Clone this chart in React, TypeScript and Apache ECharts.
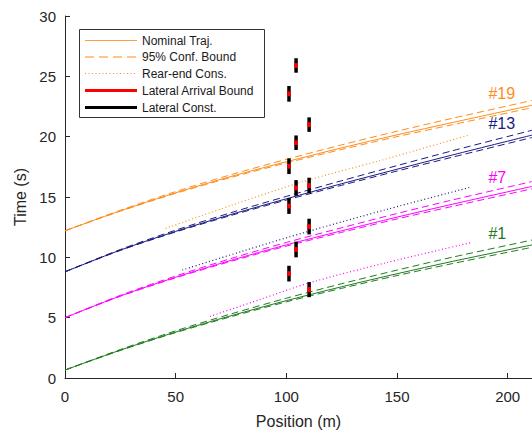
import React, { useEffect, useRef } from "react";
import * as echarts from "echarts";

// ---------- data ----------
const POS = [0, 25, 50, 75, 100, 125, 150, 175, 211];

// #1 (green)
const nom1 = [0.66, 2.31, 3.81, 5.16, 6.41, 7.56, 8.64, 9.66, 11.03];
const up1 = [0.66, 2.36, 3.91, 5.31, 6.61, 7.81, 8.94, 10.01, 11.43];
const lo1 = [0.66, 2.28, 3.76, 5.08, 6.31, 7.43, 8.49, 9.48, 10.83];
// #7 (magenta)
const nom7 = [5.0, 6.8, 8.35, 9.75, 11.03, 12.2, 13.33, 14.4, 15.88];
const up7 = [5.0, 6.85, 8.45, 9.9, 11.23, 12.45, 13.63, 14.75, 16.28];
const lo7 = [5.0, 6.77, 8.3, 9.67, 10.93, 12.07, 13.18, 14.22, 15.68];
// #13 (navy)
const nom13 = [8.8, 10.6, 12.15, 13.55, 14.85, 16.1, 17.3, 18.48, 20.13];
const up13 = [8.8, 10.65, 12.25, 13.7, 15.05, 16.35, 17.6, 18.83, 20.53];
const lo13 = [8.8, 10.57, 12.1, 13.47, 14.75, 15.97, 17.15, 18.3, 19.93];
// #19 (orange)
const nom19 = [12.2, 13.85, 15.35, 16.7, 17.92, 19.07, 20.15, 21.17, 22.6];
const up19 = [12.2, 13.9, 15.45, 16.85, 18.12, 19.32, 20.45, 21.52, 23.0];
const lo19 = [12.2, 13.82, 15.3, 16.62, 17.82, 18.94, 20.0, 20.99, 22.4];

// rear-end constraints (dotted)
const rear7X = [65.5, 88, 110.7, 145, 183];
const rear7T = [5.1, 6.5, 7.9, 9.55, 11.2];
const rear13X = [53, 80, 109, 145, 183];
const rear13T = [8.95, 10.5, 12.1, 13.95, 15.8];
const rear19X = [45.5, 75, 108, 142, 182];
const rear19T = [12.4, 14.3, 16.3, 18.0, 20.1];

// lateral constraints (black) and lateral arrival bounds (red)
const latX = [101.2, 101.2, 101.2, 101.2, 104.4, 104.4, 104.4, 104.4, 110.3, 110.3, 110.3, 110.3];
const latLow = [22.9, 16.9, 13.6, 8.0, 25.3, 18.9, 15.1, 10.0, 20.4, 15.3, 11.9, 6.7];
const latHigh = [24.2, 18.2, 14.9, 9.3, 26.5, 20.1, 16.4, 11.3, 21.6, 16.6, 13.2, 7.95];
const arrLow = [23.35, 17.35, 14.05, 8.45, 25.7, 19.3, 15.55, 10.45, 20.8, 15.75, 12.35, 7.1];
const arrHigh = [23.75, 17.75, 14.45, 8.85, 26.1, 19.7, 15.95, 10.85, 21.2, 16.15, 12.75, 7.55];

// trajectory labels
const labelNames = ["#19", "#13", "#7", "#1"];
const labelX = [191.3, 191.3, 191.3, 191.3];
const labelT = [23.6, 21.1, 16.6, 12.0];

// ---------- styles ----------
const W = 532;
const H = 435;
const C_GREEN = "#1F7A1F";
const C_MAGENTA = "#FF00FF";
const C_NAVY = "#1A1A80";
const C_ORANGE = "#FF8C1A";
const FONT = "'Liberation Sans', Arial, Helvetica, sans-serif";
const AXIS_C = "#262626";
const DASH = [7, 4];
const DOT = [1, 2.5];

const pairs = (xs: number[], ys: number[]) => xs.map((x, i) => [x, ys[i]]);

export default function App() {
  const ref = useRef<HTMLDivElement>(null);
  useEffect(() => {
    if (!ref.current) return;
    const chart = echarts.init(ref.current, undefined, { renderer: "svg", width: W, height: H });

    const traj = [
      { name: "#1", color: C_GREEN, nom: nom1, up: up1, lo: lo1 },
      { name: "#7", color: C_MAGENTA, nom: nom7, up: up7, lo: lo7 },
      { name: "#13", color: C_NAVY, nom: nom13, up: up13, lo: lo13 },
      { name: "#19", color: C_ORANGE, nom: nom19, up: up19, lo: lo19 },
    ];
    const rear = [
      { color: C_MAGENTA, x: rear7X, t: rear7T },
      { color: C_NAVY, x: rear13X, t: rear13T },
      { color: C_ORANGE, x: rear19X, t: rear19T },
    ];
    const labelColors: Record<string, string> = {
      "#19": C_ORANGE,
      "#13": C_NAVY,
      "#7": C_MAGENTA,
      "#1": C_GREEN,
    };

    const series: any[] = [];
    traj.forEach((tr) => {
      series.push({
        type: "line",
        name: tr.name + " nominal",
        data: pairs(POS, tr.nom),
        showSymbol: false,
        symbol: "none",
        smooth: 0.3,
        lineStyle: { color: tr.color, width: 1 },
        silent: true,
        z: 2,
      });
      [tr.up, tr.lo].forEach((b, k) =>
        series.push({
          type: "line",
          name: tr.name + (k ? " lower" : " upper"),
          data: pairs(POS, b),
          showSymbol: false,
          symbol: "none",
          smooth: 0.3,
          lineStyle: { color: tr.color, width: 1, type: DASH },
          silent: true,
          z: 2,
        })
      );
    });
    rear.forEach((r, i) =>
      series.push({
        type: "line",
        name: "rear " + i,
        data: pairs(r.x, r.t),
        showSymbol: false,
        symbol: "none",
        smooth: 0.3,
        lineStyle: { color: r.color, width: 1.2, type: DOT },
        silent: true,
        z: 2,
      })
    );
    series.push({
      type: "custom",
      name: "lateral",
      silent: true,
      z: 5,
      encode: { x: 0, y: [1, 2] },
      data: latX.map((x, i) => [x, latLow[i], latHigh[i], arrLow[i], arrHigh[i]]),
      renderItem: (_p: any, api: any) => {
        const x = api.value(0);
        const a = api.coord([x, api.value(1)]);
        const b = api.coord([x, api.value(2)]);
        const c = api.coord([x, api.value(3)]);
        const d = api.coord([x, api.value(4)]);
        return {
          type: "group",
          children: [
            {
              type: "line",
              shape: { x1: a[0], y1: a[1], x2: b[0], y2: b[1] },
              style: { stroke: "#000", lineWidth: 3.5 },
            },
            {
              type: "line",
              shape: { x1: c[0], y1: c[1], x2: d[0], y2: d[1] },
              style: { stroke: "#FF0000", lineWidth: 3.5 },
            },
          ],
        };
      },
    });
    series.push({
      type: "custom",
      name: "labels",
      silent: true,
      z: 6,
      encode: { x: 0, y: 1 },
      data: labelNames.map((n, i) => [labelX[i], labelT[i], i]),
      renderItem: (_p: any, api: any) => {
        const p = api.coord([api.value(0), api.value(1)]);
        const n = labelNames[api.value(2)];
        return {
          type: "text",
          x: p[0],
          y: p[1],
          style: {
            text: n,
            fill: labelColors[n],
            fontSize: 16,
            fontFamily: FONT,
            align: "left",
            verticalAlign: "middle",
          },
        };
      },
    });

    // legend drawn as graphic
    const legendItems = [
      { text: "Nominal Traj.", color: "#FF9F40", width: 1.2, dash: null as any },
      { text: "95% Conf. Bound", color: C_ORANGE, width: 1.2, dash: [9, 5] },
      { text: "Rear-end Cons.", color: C_ORANGE, width: 1.2, dash: [1, 2.5] },
      { text: "Lateral Arrival Bound", color: "#FF0000", width: 3, dash: null },
      { text: "Lateral Const.", color: "#000000", width: 3, dash: null },
    ];
    const rowY = [40.5, 57, 73.5, 90.5, 107.5];
    const legendEls: any[] = [
      {
        type: "rect",
        shape: { x: 79.5, y: 29.5, width: 185, height: 88 },
        style: { fill: "#fff", stroke: "#333", lineWidth: 1 },
        z: 100,
      },
    ];
    legendItems.forEach((it, i) => {
      legendEls.push({
        type: "line",
        shape: { x1: 85, y1: rowY[i], x2: 137, y2: rowY[i] },
        style: { stroke: it.color, lineWidth: it.width, lineDash: it.dash || undefined },
        z: 101,
      });
      legendEls.push({
        type: "text",
        x: 142,
        y: rowY[i],
        style: {
          text: it.text,
          fill: "#1a1a1a",
          fontSize: 12,
          fontFamily: FONT,
          verticalAlign: "middle",
          align: "left",
        },
        z: 101,
      });
    });

    chart.setOption({
      animation: false,
      backgroundColor: "#fff",
      grid: {
        left: 65,
        width: 467,
        top: 16,
        height: 362,
        containLabel: false,
        outerBoundsMode: "none",
      },
      xAxis: {
        type: "value",
        min: 0,
        max: 211,
        interval: 50,
        name: "Position (m)",
        nameLocation: "middle",
        nameGap: 35,
        nameTextStyle: { color: AXIS_C, fontSize: 16, fontFamily: FONT },
        axisLine: { lineStyle: { color: AXIS_C, width: 1 } },
        axisTick: { inside: true, length: 5, lineStyle: { color: AXIS_C } },
        axisLabel: {
          color: AXIS_C,
          fontSize: 15,
          fontFamily: FONT,
          margin: 11,
          showMaxLabel: false,
        },
        splitLine: { show: false },
      },
      yAxis: {
        type: "value",
        min: 0,
        max: 30,
        interval: 5,
        name: "Time (s)",
        nameLocation: "middle",
        nameGap: 33,
        nameTextStyle: { color: AXIS_C, fontSize: 16, fontFamily: FONT },
        axisLine: { show: true, lineStyle: { color: AXIS_C, width: 1 } },
        axisTick: { show: true, inside: true, length: 5, lineStyle: { color: AXIS_C } },
        axisLabel: { color: AXIS_C, fontSize: 15, fontFamily: FONT, margin: 9 },
        splitLine: { show: false },
      },
      graphic: { elements: legendEls },
      series,
    });
    return () => chart.dispose();
  }, []);
  return (
    <div
      ref={ref}
      style={{ position: "fixed", left: 0, top: 0, width: W, height: H }}
    />
  );
}
